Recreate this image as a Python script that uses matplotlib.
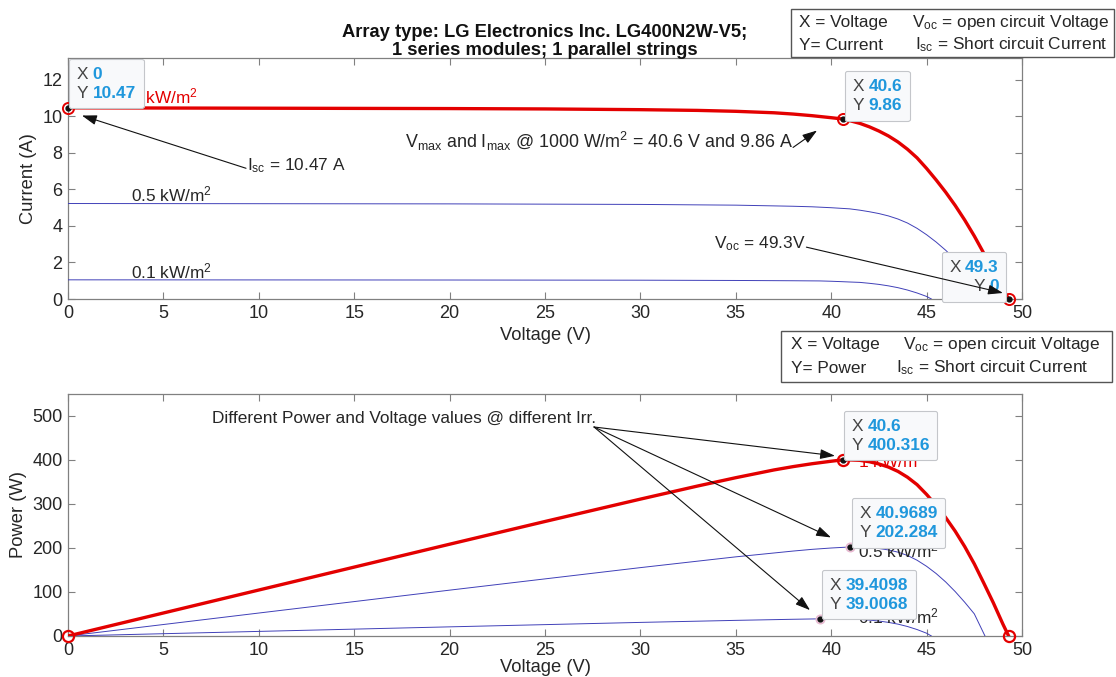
import matplotlib
matplotlib.use('Agg')
import matplotlib.pyplot as plt
import numpy as np
from matplotlib.patches import Rectangle
from matplotlib.offsetbox import TextArea, HPacker, VPacker, AnnotationBbox

plt.rcParams['font.family'] = ['Liberation Sans', 'DejaVu Sans']
plt.rcParams['mathtext.fontset'] = 'custom'
plt.rcParams['mathtext.rm'] = 'Liberation Sans'
plt.rcParams['mathtext.it'] = 'Liberation Sans:italic'
plt.rcParams['mathtext.bf'] = 'Liberation Sans:bold'

W, H = 1116, 677
RED = "#e30000"
BLUE = "#4040b8"
TIP_BLUE = "#1f97dc"
EDGE = "#808080"
TXT = "#262626"
FS = 12.4      # annotation text
FS_TICK = 13
FS_LAB = 13.2

# I-V readings for the three irradiance levels (kW/m^2)
V_1000 = [0, 5, 10, 15, 20, 25, 30, 33, 35, 37, 38, 39, 40, 40.6, 41, 41.5, 42,
          42.5, 43, 43.5, 44, 44.5, 45, 45.5, 46, 46.5, 47, 47.5, 48, 48.5,
          49, 49.3]
I_1000 = [10.47, 10.46, 10.45, 10.44, 10.43, 10.41, 10.37, 10.33, 10.28, 10.20,
          10.13, 10.04, 9.93, 9.86, 9.76, 9.62, 9.43, 9.20, 8.93, 8.60, 8.20,
          7.73, 7.15, 6.52, 5.85, 5.12, 4.32, 3.45, 2.50, 1.55, 0.55, 0]
V_500 = [0, 10, 20, 30, 35, 38, 39, 40, 40.9689, 41.5, 42, 42.5, 43, 43.5, 44,
         44.5, 45, 45.5, 46, 46.5, 47, 47.5, 48.06]
I_500 = [5.23, 5.22, 5.21, 5.18, 5.14, 5.08, 5.05, 5.00, 4.9375, 4.865, 4.78,
         4.68, 4.55, 4.38, 4.16, 3.87, 3.52, 3.12, 2.67, 2.17, 1.63, 1.06, 0]
V_100 = [0, 10, 20, 30, 35, 38, 39.4098, 40, 40.5, 41, 41.5, 42, 42.5, 43, 43.5,
         44, 44.5, 45, 45.25]
I_100 = [1.05, 1.045, 1.04, 1.03, 1.015, 1.0, 0.98977, 0.972, 0.952, 0.93,
         0.91, 0.86, 0.80, 0.72, 0.62, 0.49, 0.33, 0.14, 0]

# Isc, maximum power point and Voc at 1 kW/m^2
KEY_V = [0, 40.6, 49.3]
KEY_I = [10.47, 9.86, 0]

# data tips: (x, y, x text, y text)
TIPS_IV = [(0, 10.47, "0", "10.47"), (40.6, 9.86, "40.6", "9.86"),
           (49.3, 0, "49.3", "0")]
TIPS_PV = [(40.6, 400.316, "40.6", "400.316"),
           (40.9689, 202.284, "40.9689", "202.284"),
           (39.4098, 39.0068, "39.4098", "39.0068")]

P_1000 = np.array(V_1000) * np.array(I_1000)
P_500 = np.array(V_500) * np.array(I_500)
P_100 = np.array(V_100) * np.array(I_100)
KEY_P = np.array(KEY_V) * np.array(KEY_I)

fig = plt.figure(figsize=(W / 100, H / 100), dpi=100)
fig.patch.set_facecolor("white")
ax1 = fig.add_axes([68 / W, 1 - 299 / H, 954 / W, 241 / H])
ax2 = fig.add_axes([68 / W, 1 - 636 / H, 954 / W, 242 / H])


def style(ax, xpad):
    ax.set_xlim(0, 50)
    ax.set_xticks(np.arange(0, 51, 5))
    ax.tick_params(direction="in", top=True, right=True, length=5, width=0.8,
                   color=EDGE, labelcolor=TXT, labelsize=FS_TICK, pad=4)
    for s in ax.spines.values():
        s.set_edgecolor(EDGE)
        s.set_linewidth(0.9)
    ax.set_xlabel("Voltage (V)", fontsize=FS_LAB, color=TXT, labelpad=xpad)


def datatip(ax, x, y, xs, ys, dx, dy, corner=(0, 0), align="left"):
    rows = []
    for key, val in (("X", xs), ("Y", ys)):
        rows.append(HPacker(children=[
            TextArea(key, textprops=dict(color="#444444", fontsize=FS)),
            TextArea(val, textprops=dict(color=TIP_BLUE, fontsize=FS,
                                         fontweight="bold"))],
            sep=3, pad=0, align="baseline"))
    box = VPacker(children=rows, sep=3, pad=0, align=align)
    ab = AnnotationBbox(box, (x, y), xybox=(dx, dy), xycoords="data",
                        boxcoords="offset pixels", box_alignment=corner,
                        frameon=True, annotation_clip=False, fontsize=10,
                        bboxprops=dict(fc="#f8f9fb", ec="#c4c6ca", lw=0.8,
                                       boxstyle="round,pad=0.55,rounding_size=0.15"))
    ab.set_zorder(6)
    ax.add_artist(ab)


def arrow(ax, tail, head, z=7):
    ax.annotate("", xy=head, xytext=tail, zorder=z, annotation_clip=False,
                arrowprops=dict(arrowstyle="-|>,head_length=0.9,head_width=0.3",
                                color="#111111", lw=0.8, shrinkA=0, shrinkB=0))


# ---- I-V characteristic ----
style(ax1, 4)
ax1.set_ylim(0, 13.2)
ax1.set_yticks(np.arange(0, 13, 2))
ax1.set_ylabel("Current (A)", fontsize=FS_LAB, color=TXT, labelpad=4)
ax1.plot(V_100, I_100, color=BLUE, lw=0.7, zorder=3)
ax1.plot(V_500, I_500, color=BLUE, lw=0.7, zorder=3)
ax1.plot(V_1000, I_1000, color=RED, lw=2.4, zorder=4)
ax1.plot(KEY_V, KEY_I, "o", ms=8, mfc="none", mec=RED, mew=1.4, zorder=5,
         clip_on=False)
ax1.plot(KEY_V, KEY_I, "o", ms=3.5, color="#111111", zorder=5, clip_on=False)

ax1.text(3.3, 10.72, r"1 kW/m$^2$", color=RED, fontsize=FS, va="baseline",
         zorder=4)
ax1.text(3.3, 5.32, r"0.5 kW/m$^2$", color=TXT, fontsize=FS, va="baseline")
ax1.text(3.3, 1.15, r"0.1 kW/m$^2$", color=TXT, fontsize=FS, va="baseline")

ax1.text(9.4, 7.05, r"I$_{\rm sc}$ = 10.47 A", fontsize=FS, color=TXT,
         va="baseline")
arrow(ax1, (9.33, 7.16), (0.73, 10.05))
ax1.text(17.66, 8.25, r"V$_{\rm max}$ and I$_{\rm max}$ @ 1000 W/m$^2$ = 40.6 V and 9.86 A",
         fontsize=12.9, color=TXT, va="baseline")
arrow(ax1, (38.0, 8.30), (39.26, 9.23))
ax1.text(33.86, 2.79, r"V$_{\rm oc}$ = 49.3V", fontsize=FS, color=TXT,
         va="baseline")
arrow(ax1, (38.7, 2.84), (49.0, 0.33), z=8)

datatip(ax1, *TIPS_IV[0], dx=9, dy=7)
datatip(ax1, *TIPS_IV[1], dx=10, dy=6)
datatip(ax1, *TIPS_IV[2], dx=-10, dy=5, corner=(1, 0), align="right")

ax1.set_title("Array type: LG Electronics Inc. LG400N2W-V5;\n"
              "1 series modules; 1 parallel strings",
              fontsize=13.2, fontweight="bold", color="#111111", pad=2,
              linespacing=1.1)

# ---- P-V characteristic ----
style(ax2, 0)
ax2.set_ylim(0, 550)
ax2.set_yticks(np.arange(0, 501, 100))
ax2.set_ylabel("Power (W)", fontsize=FS_LAB, color=TXT, labelpad=4)
ax2.plot(V_100, P_100, color=BLUE, lw=0.7, zorder=3)
ax2.plot(V_500, P_500, color=BLUE, lw=0.7, zorder=3)
ax2.plot(V_1000, P_1000, color=RED, lw=2.4, zorder=4)
ax2.plot(KEY_V, KEY_P, "o", ms=8, mfc="none", mec=RED, mew=1.6, zorder=5,
         clip_on=False)
ax2.plot(KEY_V[1], KEY_P[1], "o", ms=3.5, color="#111111", zorder=5)
for tx, ty, _, _ in TIPS_PV[1:]:
    ax2.plot(tx, ty, "o", ms=6, mfc="none", mec="#e8b8d0", mew=1.2, zorder=5)
    ax2.plot(tx, ty, "o", ms=3.5, color="#111111", zorder=5)

ax2.text(41.4, 383, r"1 kW/m$^2$", color=RED, fontsize=FS, va="baseline",
         zorder=3)
ax2.text(41.4, 179, r"0.5 kW/m$^2$", color=TXT, fontsize=FS, va="baseline",
         zorder=3)
ax2.text(41.4, 29, r"0.1 kW/m$^2$", color=TXT, fontsize=FS, va="baseline",
         zorder=3)

ax2.text(7.53, 485, "Different Power and Voltage values @ different Irr.",
         fontsize=FS, color=TXT, va="baseline")
for head in [(40.2, 409.5), (39.99, 224), (38.89, 58.8)]:
    arrow(ax2, (27.57, 475), head)

datatip(ax2, *TIPS_PV[0], dx=9, dy=7)
datatip(ax2, *TIPS_PV[1], dx=10, dy=7)
datatip(ax2, *TIPS_PV[2], dx=10, dy=7)


# ---- symbol keys ----
def key_box(x0, y0, x1, y1, rows):
    fig.add_artist(Rectangle((x0 / W, 1 - y1 / H), (x1 - x0) / W, (y1 - y0) / H,
                             transform=fig.transFigure, fc="white", ec="#555555",
                             lw=1.0, zorder=10))
    for x, y, s in rows:
        fig.text(x / W, 1 - y / H, s, fontsize=FS, color=TXT, va="center",
                 zorder=11)


key_box(791, 9, 1114, 57, [
    (799, 22, "X = Voltage"),
    (912, 22, r"V$_{\rm oc}$ = open circuit Voltage"),
    (799, 45, "Y= Current"),
    (915, 45, r"I$_{\rm sc}$ = Short circuit Current"),
])
key_box(781, 331, 1112, 382, [
    (791, 345, "X = Voltage"),
    (903, 345, r"V$_{\rm oc}$ = open circuit Voltage"),
    (791, 368, "Y= Power"),
    (896, 368, r"I$_{\rm sc}$ = Short circuit Current"),
])

fig.savefig("out.png", dpi=100)
